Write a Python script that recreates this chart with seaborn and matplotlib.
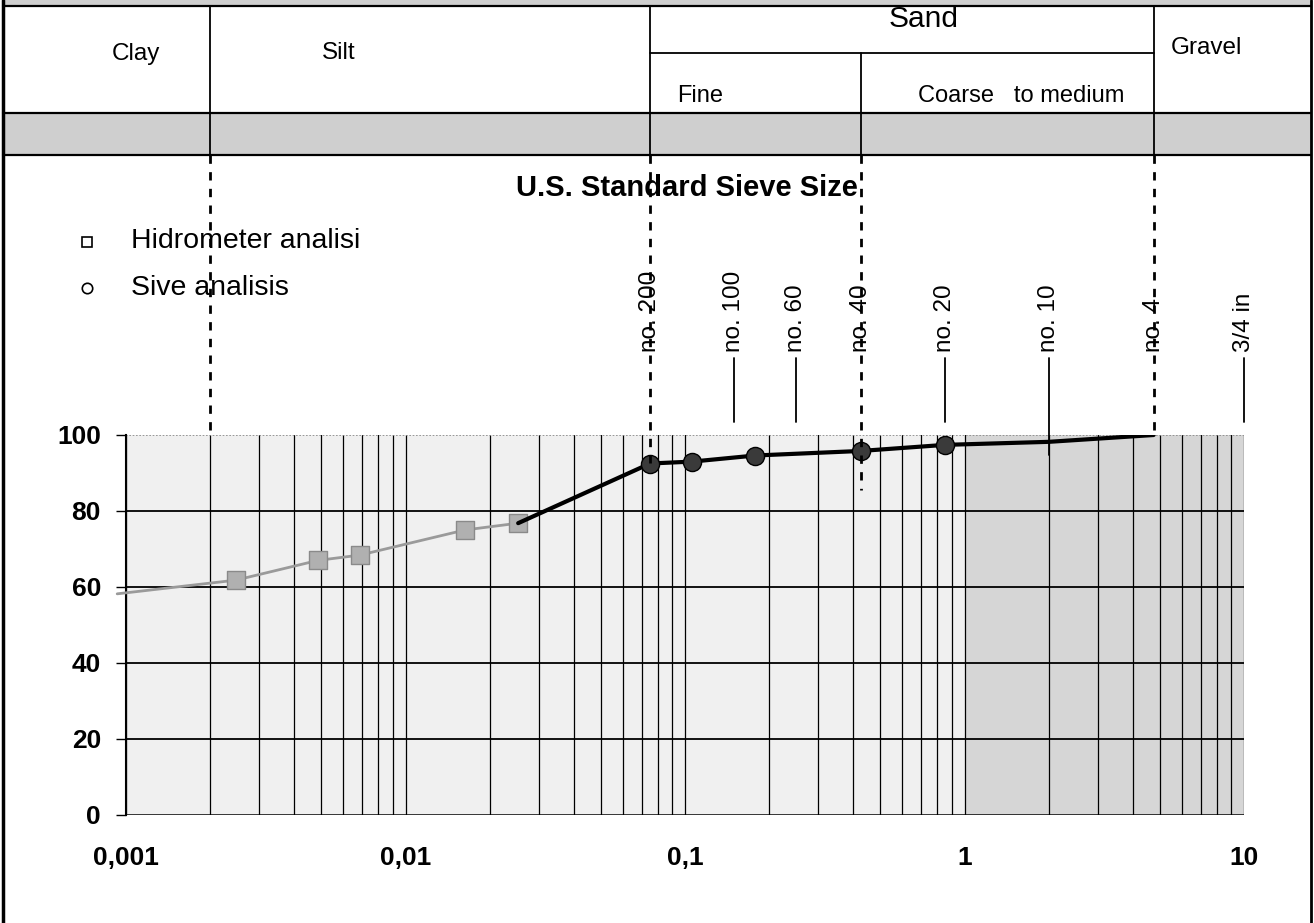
import numpy as np
import pandas as pd
import matplotlib
matplotlib.use("Agg")
import matplotlib.pyplot as plt
import matplotlib.transforms as mtransforms
from matplotlib.patches import Rectangle
from matplotlib.ticker import LogLocator, NullFormatter
import seaborn as sns

# hydrometer readings: grain size (mm) and % passing
hydro_size = [0.00093, 0.00247, 0.00486, 0.00687, 0.0163, 0.0253]
hydro_pass = [58.2, 61.8, 67.0, 68.4, 75.0, 76.8]

# sieve readings (first point joins onto the last hydrometer reading)
sieve_size = [0.0253, 0.075, 0.106, 0.178, 0.425, 0.85, 2.0, 4.75]
sieve_pass = [76.8, 92.5, 93.0, 94.6, 95.8, 97.4, 98.2, 100.0]

# US standard sieves and their opening (mm) as drawn on the chart
sieve_names = ["no. 200", "no. 100", "no. 60", "no. 40", "no. 20", "no. 10", "no. 4", "3/4 in"]
sieve_open = [0.075, 0.15, 0.25, 0.425, 0.85, 2.0, 4.75, 10.0]

# soil class limits: clay|silt, silt|fine sand, fine|coarse sand, sand|gravel
bounds = [0.002, 0.075, 0.425, 4.75]

x_ticks = [0.001, 0.01, 0.1, 1, 10]
x_labels = ["0,001", "0,01", "0,1", "1", "10"]
y_ticks = [0, 20, 40, 60, 80, 100]

sns.set_style("white", rc={"text.color": "black", "xtick.color": "black",
                           "ytick.color": "black", "axes.labelcolor": "black"})
plt.rcParams["font.family"] = ["Liberation Sans", "DejaVu Sans"]

W, H = 1314, 923
fig = plt.figure(figsize=(W / 100, H / 100), dpi=100)

# overlay in pixel units for the header table and free text
hdr = fig.add_axes([0, 0, 1, 1])
hdr.set_xlim(0, W)
hdr.set_ylim(H, 0)
hdr.axis("off")

ax = fig.add_axes([126 / W, (H - 815) / H, (1244 - 126) / W, 380 / H])
ax.set_xscale("log")
ax.set_xlim(0.001, 10)
ax.set_ylim(0, 100)
ax.set_facecolor("#f0f0f0")
ax.axvspan(1, 10, color="#d6d6d6", zorder=0, lw=0)

# x data / pixel y
blend = mtransforms.blended_transform_factory(ax.transData, hdr.transData)

# --- header table
hdr.add_patch(Rectangle((3, 0), W - 6, 6, color="#cfcfcf", lw=0))
hdr.add_patch(Rectangle((3, 113), W - 6, 42, color="#cfcfcf", lw=0))
for y in [6, 113, 155]:
    hdr.plot([3, W - 3], [y, y], color="black", lw=1.6)
hdr.plot([3, 3], [0, H], color="black", lw=2.5)
hdr.plot([W - 3, W - 3], [0, H], color="black", lw=2)

for b in bounds:
    top = 53 if b == 0.425 else 6
    ax.plot([b, b], [top, 155], transform=blend, color="black", lw=1.3, clip_on=False)
ax.plot([bounds[1], bounds[3]], [53, 53], transform=blend, color="black", lw=1.3, clip_on=False)

hdr.text(136, 54, "Clay", ha="center", va="center", fontsize=17.5)
hdr.text(339, 53, "Silt", ha="center", va="center", fontsize=17.5)
hdr.text(924, 19, "Sand", ha="center", va="center", fontsize=21.5)
hdr.text(1206, 48, "Gravel", ha="center", va="center", fontsize=17.5)
hdr.text(700, 96, "Fine", ha="center", va="center", fontsize=17)
hdr.text(1021, 96, "Coarse   to medium", ha="center", va="center", fontsize=17)

hdr.text(687, 188, "U.S. Standard Sieve Size", ha="center", va="center",
         fontsize=21, fontweight="bold")

# legend
hdr.plot(87, 242, marker="s", ms=7.5, mfc="none", mec="black", mew=1.2)
hdr.text(131, 241, "Hidrometer analisi", va="center", fontsize=20.5)
hdr.plot(87, 288, marker="o", ms=7.5, mfc="none", mec="black", mew=1.2)
hdr.text(131, 288, "Sive analisis", va="center", fontsize=20.5)

# dashed class limits running down into the plot
dash_ends = [435, 463, 490, 435]
for b, end in zip(bounds, dash_ends):
    ax.plot([b, b], [155, end], transform=blend, color="black", lw=2,
            ls=(0, (3, 3)), clip_on=False, zorder=8)

# sieve labels and their short marker lines
for name, d in zip(sieve_names, sieve_open):
    ax.text(d, 352, name, rotation=90, ha="center", va="bottom", transform=blend,
            fontsize=17.5, clip_on=False)
    if d not in bounds:
        end = 455 if name == "no. 10" else 422
        ax.plot([d, d], [358, end], transform=blend, color="black", lw=1.3,
                clip_on=False, zorder=9)

# --- grid
ax.xaxis.set_minor_locator(LogLocator(base=10, subs=np.arange(2, 10)))
ax.xaxis.set_minor_formatter(NullFormatter())
ax.grid(True, which="both", axis="x", color="black", lw=0.9)
for y in y_ticks:
    if y == 100:
        ax.axhline(y, color="#888888", lw=1.2, ls=(0, (1, 1)), zorder=1)
    else:
        ax.axhline(y, color="black", lw=1.3 if y else 1.8, zorder=1)

# --- data
hydro = pd.DataFrame({"size": hydro_size, "pass": hydro_pass})
sieve = pd.DataFrame({"size": sieve_size, "pass": sieve_pass})

sns.lineplot(data=hydro, x="size", y="pass", ax=ax, color="#9a9a9a", lw=2, zorder=4)
ax.lines[-1].set_clip_on(False)
sns.scatterplot(data=hydro.iloc[1:], x="size", y="pass", ax=ax, marker="s", s=150,
                color="#b0b0b0", edgecolor="#8a8a8a", linewidth=1, zorder=5)
sns.lineplot(data=sieve, x="size", y="pass", ax=ax, color="black", lw=3, zorder=6)
sns.scatterplot(data=sieve.iloc[1:6], x="size", y="pass", ax=ax, marker="o", s=170,
                color="#3a3a3a", edgecolor="black", linewidth=1, zorder=7)

# --- axes
ax.set_xticks(x_ticks, x_labels)
ax.set_yticks(y_ticks)
ax.tick_params(axis="x", which="both", length=0, pad=22, labelsize=19, labelcolor="black")
ax.tick_params(axis="y", length=7, width=1, color="black", pad=11, labelsize=19,
               left=True, labelcolor="black")
for lab in ax.get_xticklabels() + ax.get_yticklabels():
    lab.set_fontweight("bold")
ax.set_xlabel("")
ax.set_ylabel("")
for side in ["top", "right", "bottom"]:
    ax.spines[side].set_visible(False)
ax.spines["left"].set_color("black")
ax.spines["left"].set_linewidth(1.5)

fig.savefig("out.png", dpi=100)
